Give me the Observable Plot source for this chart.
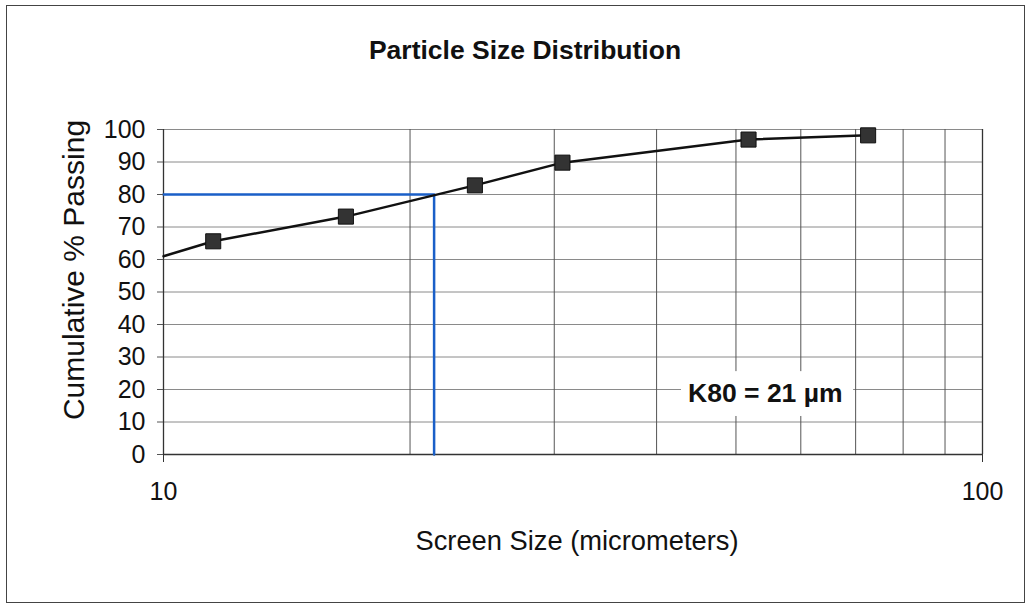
<!DOCTYPE html>
<html><head><meta charset="utf-8">
<script src="https://cdn.jsdelivr.net/npm/d3@7"></script>
<script src="https://cdn.jsdelivr.net/npm/@observablehq/plot@0.6"></script>
<style>
body{margin:0;background:#fff;}
#wrap{position:relative;width:1028px;height:606px;overflow:hidden;font-family:"Liberation Sans",Arial,sans-serif;}
#frame{position:absolute;left:6px;top:5px;width:1019px;height:598px;border:1.5px solid #444;box-sizing:border-box;}
#title{position:absolute;left:0;width:1050px;top:35px;text-align:center;font-weight:bold;font-size:26.5px;color:#111;}
#chart{position:absolute;left:0;top:0;}
</style></head><body>
<div id="wrap"><div id="frame"></div><div id="title">Particle Size Distribution</div><div id="chart"></div></div>
<script>
// Measured points
const screenSizes = [11.5, 16.7, 24.0, 30.7, 51.8, 72.5];
const cumPassing = [65.6, 73.2, 82.8, 89.8, 96.9, 98.2];
// Fitted curve (starts at left edge of axis)
const curveSizes = [10, 11.5, 16.7, 24.0, 30.7, 51.8, 72.5];
const curvePassing = [61.0, 65.6, 73.2, 82.8, 89.8, 96.9, 98.2];
// K80 construction lines
const k80Sizes = [10, 21.4, 21.4];
const k80Passing = [80, 80, 0];
// Axis ticks
const yTicks = [0, 10, 20, 30, 40, 50, 60, 70, 80, 90, 100];
const xTicks = [10, 100];
const xGrid = [20, 30, 40, 50, 60, 70, 80, 90];
// Labels
const xLabel = "Screen Size (micrometers)";
const yLabel = "Cumulative % Passing";
// Annotation
const annText = ["K80 = 21 µm"];
const annSize = [54.3];
const annPassing = [18.8];
const annBoxSize = [42.9, 69.6];
const annBoxPassing = [11.7, 25.5];

const pts = screenSizes.map((s, i) => ({size: s, passing: cumPassing[i]}));
const curve = curveSizes.map((s, i) => ({size: s, passing: curvePassing[i]}));
const k80 = k80Sizes.map((s, i) => ({size: s, passing: k80Passing[i]}));
const ann = annText.map((t, i) => ({text: t, size: annSize[i], passing: annPassing[i],
  x1: annBoxSize[0], x2: annBoxSize[1], y1: annBoxPassing[0], y2: annBoxPassing[1]}));

const chart = Plot.plot({
  width: 1028, height: 606,
  marginLeft: 163, marginRight: 46, marginTop: 129, marginBottom: 152,
  style: {fontFamily: "Liberation Sans, Arial, sans-serif", background: "transparent", color: "#111"},
  x: {type: "log", domain: [10, 100]},
  y: {domain: [0, 100]},
  marks: [
    Plot.ruleY(yTicks, {stroke: "#8a8a8a", strokeWidth: 1}),
    Plot.ruleX(xGrid, {stroke: "#555", strokeWidth: 1}),
    Plot.ruleX(xTicks, {stroke: "#333", strokeWidth: 1.3}),
    Plot.ruleY([0], {stroke: "#333", strokeWidth: 1.3}),
    Plot.rect(ann, {x1: "x1", x2: "x2", y1: "y1", y2: "y2", fill: "white"}),
    Plot.text(ann, {x: "size", y: "passing", text: "text", fontSize: 26.5, fontWeight: "bold", fill: "#111"}),
    Plot.line(k80, {x: "size", y: "passing", stroke: "#1a5fc8", strokeWidth: 2.5}),
    Plot.line(curve, {x: "size", y: "passing", stroke: "#111", strokeWidth: 2.5}),
    Plot.dot(pts, {x: "size", y: "passing", symbol: "square", r: 8.5, fill: "#333", stroke: "#111", strokeWidth: 1}),
    Plot.axisY(yTicks, {tickSize: 6, tickPadding: 12, fontSize: 25, stroke: "#555", label: null}),
    Plot.axisX(xTicks, {tickSize: 8, tickPadding: 20, fontSize: 25, stroke: "#333", tickFormat: d3.format("d"), label: null}),
    Plot.text([yLabel], {frameAnchor: "left", text: d => d, rotate: -90, dx: -89, dy: -22, fontSize: 30, fill: "#111", textAnchor: "middle", lineAnchor: "middle"}),
    Plot.text([xLabel], {frameAnchor: "bottom", text: d => d, dx: 4, dy: 87, fontSize: 27.3, fill: "#111", textAnchor: "middle", lineAnchor: "middle"})
  ]
});
document.getElementById("chart").appendChild(chart);
</script>
</body></html>
